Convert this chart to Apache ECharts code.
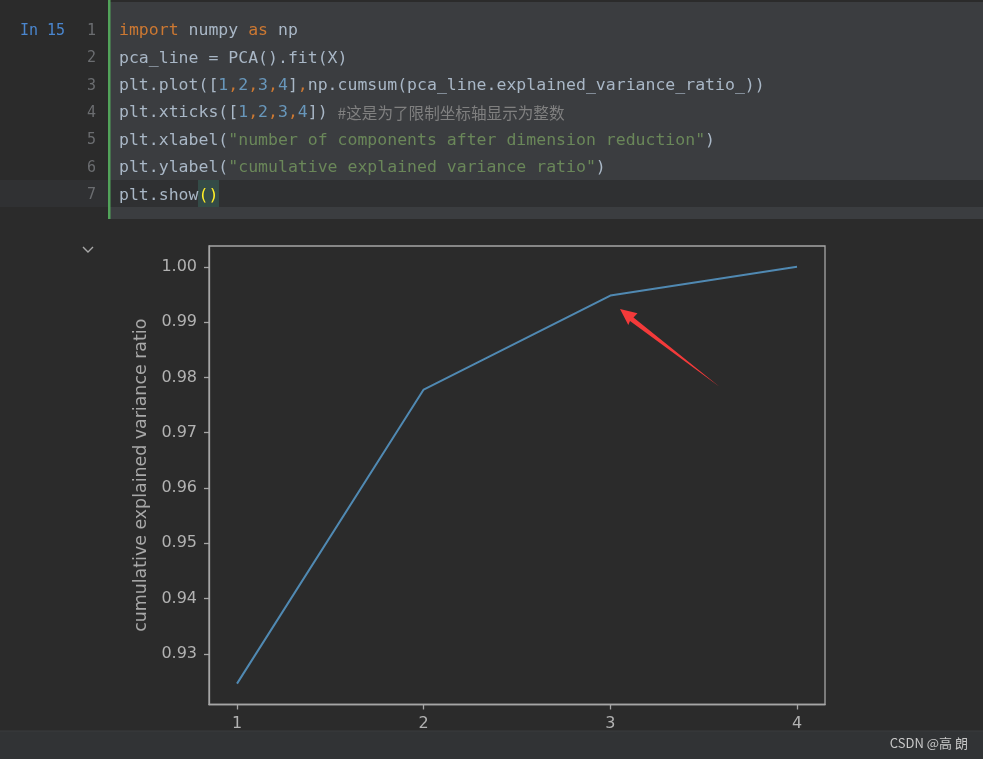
<!DOCTYPE html>
<html>
<head>
<meta charset="utf-8">
<script src="https://cdn.jsdelivr.net/npm/echarts@6/dist/echarts.min.js"></script>
<style>
html,body{margin:0;padding:0;background:#2b2b2b;}
#chart{width:983px;height:759px;}
</style>
</head>
<body>
<div id="chart"></div>
<script>
// ---- data ----
const components = [1, 2, 3, 4];
const cumulativeRatio = [0.9246, 0.9778, 0.9948, 1.0];
const xTickValues = [1, 2, 3, 4];
const yTickValues = [0.93, 0.94, 0.95, 0.96, 0.97, 0.98, 0.99, 1.00];
const yAxisTitle = 'cumulative explained variance ratio';

// code cell text (token style, text)
const codeLines = [
  [['k','import'],['d',' numpy '],['k','as'],['d',' np']],
  [['d','pca_line = PCA().fit(X)']],
  [['d','plt.plot(['],['n','1'],['k',','],['n','2'],['k',','],['n','3'],['k',','],['n','4'],['d',']'],['k',','],['d','np.cumsum(pca_line.explained_variance_ratio_))']],
  [['d','plt.xticks(['],['n','1'],['k',','],['n','2'],['k',','],['n','3'],['k',','],['n','4'],['d',']) '],['c','#这是为了限制坐标轴显示为整数']],
  [['d','plt.xlabel('],['s','"number of components after dimension reduction"'],['d',')']],
  [['d','plt.ylabel('],['s','"cumulative explained variance ratio"'],['d',')']],
  [['d','plt.show'],['p','()']]
];

// matplotlib-style 5% margins
function padRange(arr){
  const lo = Math.min.apply(null, arr), hi = Math.max.apply(null, arr);
  const m = (hi - lo) * 0.05;
  return [lo - m, hi + m];
}
const xr = padRange(components);
const yr = padRange(cumulativeRatio);

const monoFont = '"DejaVu Sans Mono", "Noto Sans CJK SC", monospace';
const codeFontSize = 16.5;
const richStyles = {
  d: {fill:'#a9b7c6', font: codeFontSize + 'px ' + monoFont},
  k: {fill:'#cc7832', font: codeFontSize + 'px ' + monoFont},
  n: {fill:'#6897bb', font: codeFontSize + 'px ' + monoFont},
  s: {fill:'#6a8759', font: codeFontSize + 'px ' + monoFont},
  c: {fill:'#808080', font: '15.6px "Noto Sans CJK SC", "DejaVu Sans Mono", sans-serif'},
  p: {fill:'#ffef28', font: codeFontSize + 'px ' + monoFont}
};

const lineTop = 31, lineStep = 27.4;
const graphics = [];
// gutter current-line band
graphics.push({type:'rect', z:-5, shape:{x:0,y:180,width:108,height:27}, style:{fill:'#303133'}});
// code cell background
graphics.push({type:'rect', z:-5, shape:{x:110,y:2,width:873,height:217}, style:{fill:'#3b3d40'}});
// current line band
graphics.push({type:'rect', z:-4, shape:{x:110,y:180,width:873,height:27}, style:{fill:'#2f3032'}});
// paren highlight
graphics.push({type:'rect', z:-3, shape:{x:198,y:180,width:21,height:27}, style:{fill:'#344b47'}});
// green bar
graphics.push({type:'rect', z:-2, shape:{x:108,y:0,width:2.5,height:219}, style:{fill:'#52a35a'}});
// In 15
graphics.push({type:'text', x:20, y:lineTop, style:{text:'In 15', fill:'#4a86cf', font:'15px "DejaVu Sans Mono", monospace', verticalAlign:'middle', align:'left'}});
codeLines.forEach(function(tokens, i){
  const y = lineTop + lineStep * i;
  graphics.push({type:'text', x:96, y:y, style:{text:String(i+1), fill:'#6b6d70', font:'15px "DejaVu Sans Mono", monospace', verticalAlign:'middle', align:'right'}});
  const txt = tokens.map(function(t){ return '{' + t[0] + '|' + t[1] + '}'; }).join('');
  graphics.push({type:'text', x:119, y:y, style:{text:txt, rich:richStyles, fill:'#a9b7c6', font: codeFontSize + 'px ' + monoFont, verticalAlign:'middle', align:'left'}});
});
// collapse chevron
graphics.push({type:'polyline', shape:{points:[[83,247],[88,252],[93,247]]}, style:{stroke:'#a8a8a8', lineWidth:1.4, fill:null}});
// red annotation arrow
graphics.push({type:'polygon', z:50, shape:{points:[[620,309],[637.5,313.3],[633.5,317.5],[719.5,386.8],[630,321],[628.3,325]]}, style:{fill:'#f33a3a'}});
// bottom bar
graphics.push({type:'rect', z:100, shape:{x:0,y:731,width:983,height:28}, style:{fill:'#313335'}});
graphics.push({type:'rect', z:101, shape:{x:0,y:730.5,width:983,height:1}, style:{fill:'#3a3c3f'}});
graphics.push({type:'text', z:102, x:968, y:743, style:{text:'CSDN @高 朗', fill:'#c8c8c8', font:'13px "Noto Sans CJK SC", sans-serif', verticalAlign:'middle', align:'right'}});

const axisColor = '#a6a6a6';
const labelColor = '#b2b2b2';

const chart = echarts.init(document.getElementById('chart'), null, {renderer:'canvas'});
chart.setOption({
  backgroundColor: '#2b2b2b',
  animation: false,
  grid: {left:209, top:246, width:616, height:458.5, show:true, borderColor:axisColor, borderWidth:1.3, backgroundColor:'transparent'},
  xAxis: {
    type:'value', min:xr[0], max:xr[1],
    axisLine:{show:true, onZero:false, lineStyle:{color:axisColor, width:1.3}},
    axisTick:{show:true, customValues:xTickValues, length:5, lineStyle:{color:axisColor, width:1.3}},
    axisLabel:{customValues:xTickValues, color:labelColor, fontSize:16, fontFamily:'DejaVu Sans', margin:11, formatter:function(v){return String(v);}},
    splitLine:{show:false}
  },
  yAxis: {
    type:'value', min:yr[0], max:yr[1],
    name: yAxisTitle, nameLocation:'middle', nameRotate:90, nameGap:59,
    nameTextStyle:{color:'#a8a8a8', fontSize:17.4, fontFamily:'DejaVu Sans'},
    axisLine:{show:true, onZero:false, lineStyle:{color:axisColor, width:1.3}},
    axisTick:{show:true, customValues:yTickValues, length:5, lineStyle:{color:axisColor, width:1.3}},
    axisLabel:{customValues:yTickValues, color:labelColor, fontSize:16, fontFamily:'DejaVu Sans', margin:12, formatter:function(v){return v.toFixed(2);}},
    splitLine:{show:false}
  },
  series: [{
    type:'line',
    data: components.map(function(x, i){ return [x, cumulativeRatio[i]]; }),
    showSymbol:false, symbol:'none', silent:true,
    lineStyle:{color:'#5089b2', width:2}
  }],
  graphic: graphics
});
</script>
</body>
</html>
